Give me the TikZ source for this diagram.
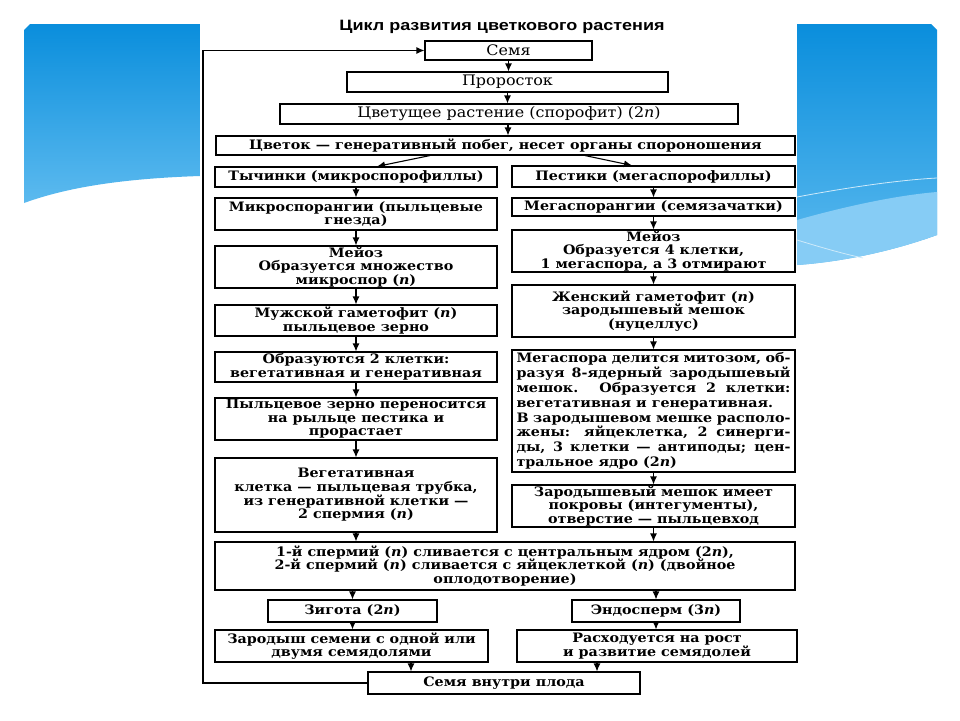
\documentclass[tikz,border=0pt]{standalone}
\usepackage{fontspec}
\setmainfont{DejaVu Serif}[FakeStretch=1.1]
\newfontfamily\titlefont{Liberation Sans}[FakeStretch=1.2]
\usetikzlibrary{arrows.meta}
\definecolor{bluetop}{HTML}{0A8EDC}
\definecolor{bluebot}{HTML}{5CBAEF}
\definecolor{bluelight}{HTML}{86CCF5}
\begin{document}
\begin{tikzpicture}[x=1pt,y=-1pt,
  box/.style={draw=black, line width=1.1pt, inner sep=0pt, align=center,
    font=\bfseries\fontsize{13}{13.6}\selectfont},
  topbox/.style={box, font=\fontsize{14.5}{15}\selectfont},
  arr/.style={-{Latex[length=8pt,width=7pt]}, line width=1.1pt}]
\useasboundingbox (0,0) rectangle (960,720);
\fill[white] (0,0) rectangle (960,720);
% background panels
\shade[top color=bluetop,bottom color=bluebot] (24,30) -- (30,24) -- (200,24) -- (200,176)
  .. controls (110,179) and (60,190) .. (24,203) -- cycle;
\shade[top color=bluetop,bottom color=bluebot] (797,24) -- (931,24) -- (937,30) -- (937,235)
  .. controls (890,252) and (840,262) .. (797,265) -- cycle;
\fill[bluelight] (797,220) .. controls (850,205) and (900,195) .. (937,192) -- (937,235)
  .. controls (890,252) and (840,262) .. (797,265) -- cycle;
\draw[white!70!bluebot, line width=0.8pt] (797,197) .. controls (850,187) and (900,180) .. (937,178);
\draw[white!70!bluebot, line width=0.8pt] (797,240) .. controls (820,247) and (840,253) .. (863,258);

% title
\node[font=\titlefont\bfseries\fontsize{15}{15}\selectfont] (title) at (502,27) {Цикл развития цветкового растения};

% nodes
\node[topbox, minimum width=167, minimum height=19] (semya) at (508.5,50.5) {Семя};
\node[topbox, minimum width=321, minimum height=20] (prorostok) at (507.5,82) {Проросток};
\node[topbox, minimum width=458, minimum height=20] (tsvet) at (509,114) {Цветущее растение (спорофит) (2\textit{n})};
\node[box, minimum width=579, minimum height=19] (tsvetok) at (505.5,145.5) {Цветок — генеративный побег, несет органы спороношения};
\node[box, minimum width=282, minimum height=20] (tych) at (356,177) {Тычинки (микроспорофиллы)};
\node[box, minimum width=283, minimum height=21] (pest) at (653.5,176.5) {Пестики (мегаспорофиллы)};
\node[box, minimum width=282, minimum height=32] (mikro) at (356,214) {Микроспорангии (пыльцевые\\гнезда)};
\node[box, minimum width=283, minimum height=18] (mega) at (653.5,207) {Мегаспорангии (семязачатки)};
\node[box, minimum width=282, minimum height=42] (meiozL) at (356,267) {Мейоз\\Образуется множество\\микроспор (\textit{n})};
\node[box, minimum width=283, minimum height=42] (meiozR) at (653.5,251) {Мейоз\\Образуется 4 клетки,\\1 мегаспора, а 3 отмирают};
\node[box, minimum width=282, minimum height=31] (muzh) at (356,320.5) {Мужской гаметофит (\textit{n})\\пыльцевое зерно};
\node[box, minimum width=283, minimum height=52] (zhen) at (653.5,311) {Женский гаметофит (\textit{n})\\зародышевый мешок\\(нуцеллус)};
\node[box, minimum width=282, minimum height=30] (obraz) at (356,367) {Образуются 2 клетки:\\вегетативная и генеративная};
\node[box, minimum width=283, minimum height=122, text width=274, align=justify,
  font=\bfseries\fontsize{13}{14.8}\selectfont] (megaspora) at (653.5,411)
  {Мегаспора делится митозом, об-\linebreak
   разуя 8-ядерный зародышевый\linebreak
   мешок. Образуется 2 клетки:\linebreak
   вегетативная и генеративная.\newline
   В зародышевом мешке располо-\linebreak
   жены: яйцеклетка, 2 синерги-\linebreak
   ды, 3 клетки — антиподы; цен-\linebreak
   тральное ядро (2\textit{n})};
\node[box, minimum width=282, minimum height=42] (pyl) at (356,419) {Пыльцевое зерно переносится\\на рыльце пестика и\\прорастает};
\node[box, minimum width=282, minimum height=74] (veget) at (356,495) {Вегетативная\\клетка — пыльцевая трубка,\\из генеративной клетки —\\2 спермия (\textit{n})};
\node[box, minimum width=283, minimum height=42] (zarmesh) at (653.5,506) {Зародышевый мешок имеет\\покровы (интегументы),\\отверстие — пыльцевход};
\node[box, minimum width=580, minimum height=48] (sperm) at (505,566) {1-й спермий (\textit{n}) сливается с центральным ядром (2\textit{n}),\\2-й спермий (\textit{n}) сливается с яйцеклеткой (\textit{n}) (двойное\\оплодотворение)};
\node[box, minimum width=169, minimum height=22] (zigota) at (352.5,611) {Зигота (2\textit{n})};
\node[box, minimum width=168, minimum height=22] (endo) at (656,611) {Эндосперм (3\textit{n})};
\node[box, minimum width=273, minimum height=32] (zarod) at (351.5,646) {Зародыш семени с одной или\\двумя семядолями};
\node[box, minimum width=280, minimum height=32] (rashod) at (657,646) {Расходуется на рост\\и развитие семядолей};
\node[box, minimum width=272, minimum height=22] (semyav) at (504,683) {Семя внутри плода};

% loop
\coordinate (loopB) at (203,683);
\coordinate (loopT) at (203,50.5);
\draw[arr] (semyav.west) -- (loopB) -- (loopT) -- (semya.west);

% arrows
\draw[arr] (semya.south) -- (semya.south |- prorostok.north);
\draw[arr] (prorostok.south) -- (prorostok.south |- tsvet.north);
\draw[arr] ([xshift=-1pt]tsvet.south) -- ([xshift=-1pt]tsvet.south |- tsvetok.north);
\draw[arr] ([xshift=-75.5pt]tsvetok.south) -- ([xshift=21pt]tych.north);
\draw[arr] ([xshift=79.5pt]tsvetok.south) -- ([xshift=-21.5pt]pest.north);
\draw[arr] (tych.south) -- (mikro.north);
\draw[arr] (mikro.south) -- (meiozL.north);
\draw[arr] (meiozL.south) -- (muzh.north);
\draw[arr] (muzh.south) -- (obraz.north);
\draw[arr] (obraz.south) -- (pyl.north);
\draw[arr] (pyl.south) -- (veget.north);
\draw[arr] (veget.south) -- (veget.south |- sperm.north);
\draw[arr] (pest.south) -- (mega.north);
\draw[arr] (mega.south) -- (meiozR.north);
\draw[arr] (meiozR.south) -- (zhen.north);
\draw[arr] (zhen.south) -- (megaspora.north);
\draw[arr] (megaspora.south) -- (zarmesh.north);
\draw[arr] (zarmesh.south) -- (zarmesh.south |- sperm.north);
\draw[arr] (zigota.north |- sperm.south) -- (zigota.north);
\draw[arr] (endo.north |- sperm.south) -- (endo.north);
\draw[arr] (zigota.south) -- (zigota.south |- zarod.north);
\draw[arr] (endo.south) -- (endo.south |- rashod.north);
\draw[arr] ([xshift=59.5pt]zarod.south) -- ([xshift=59.5pt]zarod.south |- semyav.north);
\draw[arr] ([xshift=-60pt]rashod.south) -- ([xshift=-60pt]rashod.south |- semyav.north);
\end{tikzpicture}
\end{document}
